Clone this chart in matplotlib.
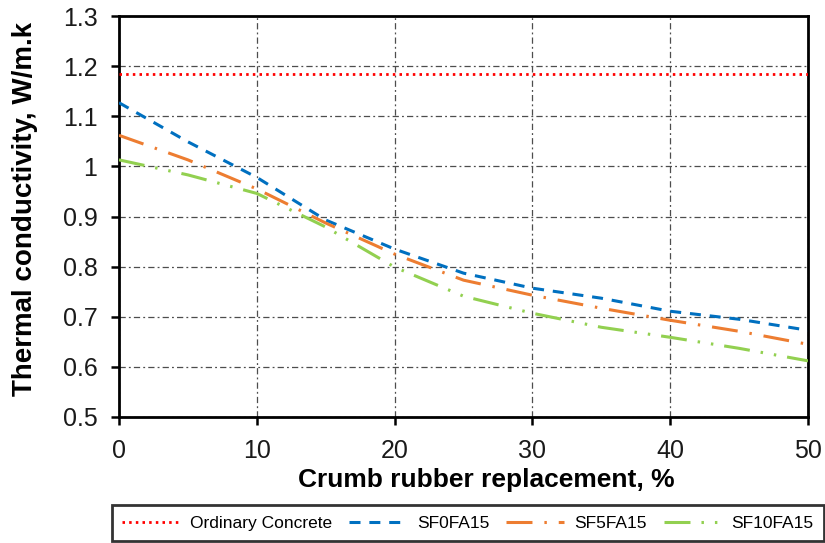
# _*_ coding: utf-8 _*_

"""
  Thermal conductivity of rubberized concrete mixes vs crumb rubber content.
"""

import matplotlib
matplotlib.use('Agg')
import matplotlib.pyplot as plt

plt.rcParams['font.family'] = ['Liberation Sans', 'DejaVu Sans']

# crumb rubber replacement, %
rubber = [0, 5, 10, 15, 20, 25, 30, 35, 40, 45, 50]

# thermal conductivity, W/m.k
ordinary = [1.184] * len(rubber)
sf0fa15 = [1.127, 1.049, 0.978, 0.893, 0.835, 0.787, 0.757, 0.737, 0.711, 0.695, 0.673]
sf5fa15 = [1.062, 1.013, 0.955, 0.887, 0.825, 0.773, 0.743, 0.717, 0.693, 0.671, 0.645]
sf10fa15 = [1.013, 0.983, 0.946, 0.879, 0.799, 0.741, 0.707, 0.679, 0.659, 0.637, 0.612]

fig = plt.figure(figsize=(8.25, 5.43), dpi=100)
ax = fig.add_axes([119 / 825, 1 - 417 / 543, 689 / 825, 401 / 543])

# series
lw = 2.2
ax.plot(rubber, ordinary, color='#FF0000', lw=2.0, linestyle=(0, (0.9, 1.5)),
        label='Ordinary Concrete', zorder=3)
ax.plot(rubber, sf0fa15, color='#0070C0', lw=lw, linestyle=(0, (3.6, 2.9)),
        label='SF0FA15', zorder=4)
ax.plot(rubber, sf5fa15, color='#ED7D31', lw=lw,
        linestyle=(0, (8.5, 3.9, 0.8, 3.9)), label='SF5FA15', zorder=4)
ax.plot(rubber, sf10fa15, color='#92D050', lw=lw,
        linestyle=(0, (8.5, 3.6, 0.8, 3.6, 0.8, 3.6)), label='SF10FA15', zorder=4)

# axes
ax.set_xlim(0, 50)
ax.set_ylim(0.5, 1.3)
ax.set_xticks(range(0, 51, 10))
ax.set_yticks([0.5, 0.6, 0.7, 0.8, 0.9, 1.0, 1.1, 1.2, 1.3])
ax.set_yticklabels(['0.5', '0.6', '0.7', '0.8', '0.9', '1', '1.1', '1.2', '1.3'])
ax.tick_params(direction='out', length=5.5, width=1.8, labelsize=18,
               labelcolor='#1a1a1a', pad=10)
for side in ['left', 'right', 'top', 'bottom']:
    ax.spines[side].set_linewidth(2.0)
    ax.spines[side].set_color('black')

ax.grid(True, color='#4d4d4d', lw=0.9, linestyle=(0, (5, 2.5, 1.5, 2.5)))
ax.set_axisbelow(True)

ax.set_xlabel('Crumb rubber replacement, %', fontsize=19, fontweight='bold')
ax.set_ylabel('Thermal conductivity, W/m.k', fontsize=20, fontweight='bold')
ax.xaxis.set_label_coords(0.533, -0.127)
ax.yaxis.set_label_coords(-0.118, 0.52)

# legend box below the chart
leg = fig.legend(loc='lower left', ncol=4, mode='expand',
                 bbox_to_anchor=(112 / 825, 2 / 543, 712 / 825, 39 / 543),
                 borderaxespad=0, fontsize=12.5, handlelength=3.3,
                 handletextpad=0.6, columnspacing=1.1, fancybox=False,
                 borderpad=0.6, frameon=True)
leg.get_frame().set_edgecolor('black')
leg.get_frame().set_linewidth(2.0)

fig.savefig('out.png', dpi=100)
